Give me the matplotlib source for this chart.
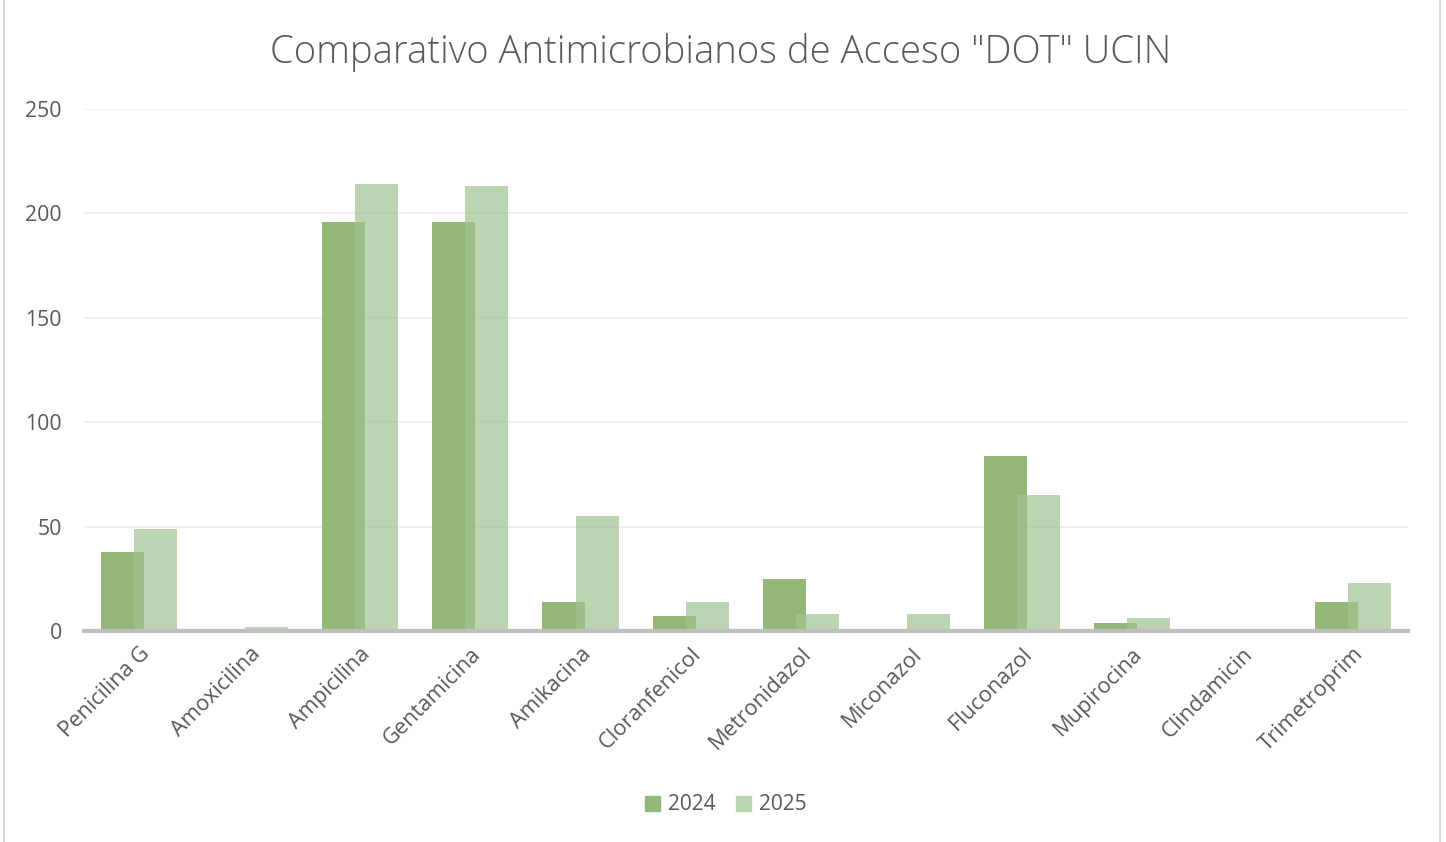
import matplotlib
matplotlib.use("Agg")
import matplotlib.pyplot as plt
from matplotlib.patches import Rectangle, Patch
import numpy as np

categories = ["Penicilina G", "Amoxicilina", "Ampicilina", "Gentamicina", "Amikacina",
              "Cloranfenicol", "Metronidazol", "Miconazol", "Fluconazol", "Mupirocina",
              "Clindamicin", "Trimetroprim"]
values_2024 = [38, 0, 196, 196, 14, 7, 25, 0, 84, 4, 0, 14]
values_2025 = [49, 2, 214, 213, 55, 14, 8, 8, 65, 6, 1, 23]
yticks = [0, 50, 100, 150, 200, 250]

FONT = ["Open Sans", "DejaVu Sans"]
plt.rcParams['font.family'] = FONT

W, H = 1446, 842
fig = plt.figure(figsize=(W/100, H/100), dpi=100)
ax = fig.add_axes([84/W, 1-631/H, (1408-84)/W, (631-109)/H])

x = np.arange(len(categories))
bw = 0.39
ax.bar(x - 0.15, values_2024, bw, color="#93B778", zorder=2)
ax.bar(x + 0.15, values_2025, bw, color=(160/255, 195/255, 144/255), alpha=0.7, zorder=3)

ax.set_xlim(-0.5, len(categories) - 0.5)
ax.set_ylim(0, 250)
ax.set_yticks(yticks)
ax.set_yticklabels([str(v) for v in yticks], fontsize=15.3, color="#595959")
ax.yaxis.grid(True, color="#EDEDED", linewidth=1.2, zorder=0)
ax.set_axisbelow(True)
ax.tick_params(axis='y', length=0, pad=16)
ax.tick_params(axis='x', length=0, pad=9)
ax.set_xticks(x)
ax.set_xticklabels(categories, rotation=45, ha='right', rotation_mode='anchor',
                   fontsize=15.7, color="#595959")
for s in ['top', 'right', 'left']:
    ax.spines[s].set_visible(False)
ax.spines['bottom'].set_color("#BFBFBF")
ax.spines['bottom'].set_linewidth(3)
ax.spines['bottom'].set_zorder(4)

fig.text(721/W, 1-53/H, 'Comparativo Antimicrobianos de Acceso "DOT" UCIN',
         ha='center', va='center', fontsize=27.5, fontweight='light', color="#595959")

handles = [Patch(color="#93B778", label="2024"),
           Patch(color="#BDD5B2", label="2025")]
fig.legend(handles=handles, loc='center', bbox_to_anchor=(726/W, 1-805/H), ncol=2,
           frameon=False, fontsize=15, handlelength=0.7, handleheight=0.7,
           columnspacing=1.0, handletextpad=0.4, labelcolor="#595959")

fig.patches.append(Rectangle((4/W, -0.01), (1440-4)/W, 1.02, transform=fig.transFigure,
                             fill=False, edgecolor="#D9D9D9", linewidth=1.5))

fig.savefig("out.png", dpi=100, facecolor="white")
